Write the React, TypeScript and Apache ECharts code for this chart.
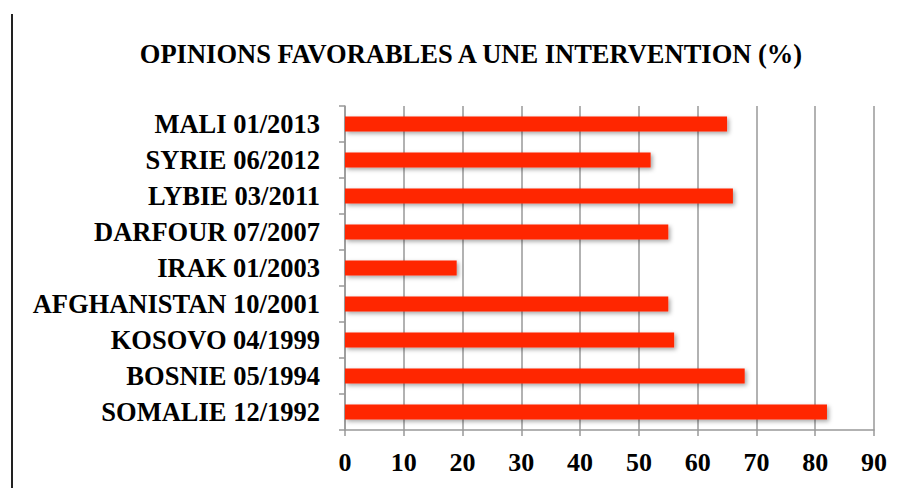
import React, { useEffect, useRef } from "react";
import * as echarts from "echarts";

const categories = [
  "MALI 01/2013",
  "SYRIE 06/2012",
  "LYBIE 03/2011",
  "DARFOUR 07/2007",
  "IRAK 01/2003",
  "AFGHANISTAN 10/2001",
  "KOSOVO 04/1999",
  "BOSNIE 05/1994",
  "SOMALIE 12/1992",
];
const values = [65, 52, 66, 55, 19, 55, 56, 68, 82];
const titleText = "OPINIONS FAVORABLES A UNE INTERVENTION (%)";

export default function App() {
  const ref = useRef<HTMLDivElement>(null);
  useEffect(() => {
    if (!ref.current) return;
    const chart = echarts.init(ref.current, null, { renderer: "svg" });
    const font = "'Liberation Serif', 'Times New Roman', serif";
    chart.setOption({
      animation: false,
      backgroundColor: "#ffffff",
      title: {
        text: titleText,
        left: 466,
        textAlign: "center",
        top: 35,
        textStyle: { fontFamily: font, fontWeight: "bold", fontSize: 26.5, color: "#000" },
      },
      grid: { left: 345, right: 31, top: 106, bottom: 58, containLabel: false },
      xAxis: {
        type: "value",
        min: 0,
        max: 90,
        interval: 10,
        axisLine: { show: true, lineStyle: { color: "#999", width: 1.5 } },
        axisTick: { show: true, length: 6, lineStyle: { color: "#999", width: 1.5 } },
        splitLine: { show: true, lineStyle: { color: "#999", width: 1.5 } },
        axisLabel: { fontFamily: font, fontWeight: "bold", fontSize: 26, color: "#000", margin: 19 },
      },
      yAxis: {
        type: "category",
        data: categories,
        inverse: true,
        axisLine: { show: true, lineStyle: { color: "#999", width: 1.5 } },
        axisTick: { show: true, length: 6, lineStyle: { color: "#999", width: 1.5 } },
        axisLabel: { fontFamily: font, fontWeight: "bold", fontSize: 26.5, color: "#000", margin: 25 },
      },
      series: [
        {
          type: "bar",
          data: values,
          barWidth: 15,
          itemStyle: {
            color: "#ff2600",
            shadowColor: "rgba(0,0,0,0.35)",
            shadowBlur: 4,
            shadowOffsetX: 2,
            shadowOffsetY: 2,
          },
        },
      ],
      graphic: [
        {
          type: "line",
          shape: { x1: 12, y1: 14, x2: 12, y2: 488 },
          style: { stroke: "#222", lineWidth: 2 },
        },
      ],
    });
    return () => chart.dispose();
  }, []);
  return (
    <div
      ref={ref}
      style={{ position: "fixed", left: 0, top: 0, width: 905, height: 488 }}
    />
  );
}
